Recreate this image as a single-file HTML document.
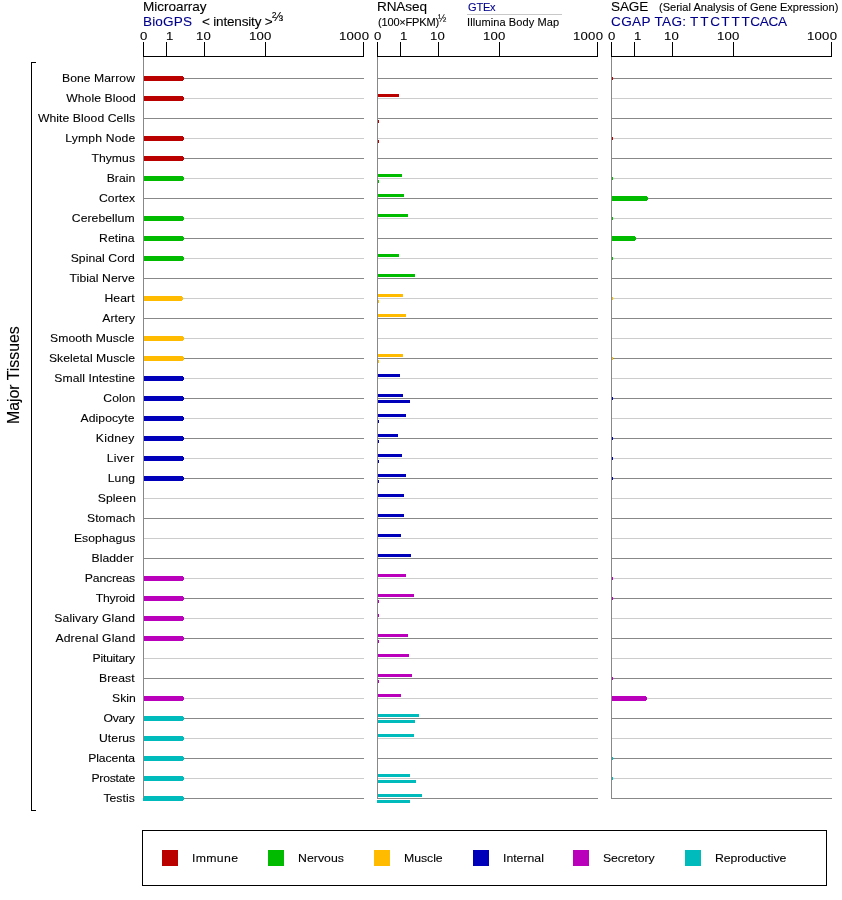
<!DOCTYPE html>
<html><head><meta charset="utf-8"><title>Expression</title>
<style>
html,body{margin:0;padding:0;background:#fff}
body{width:842px;height:900px;position:relative;overflow:hidden;font-family:"Liberation Sans",sans-serif;color:#000}
div{position:absolute;white-space:nowrap}
.x,.lb,.tk{-webkit-text-stroke:.1px currentColor}
.k{background:#000}
.g1{background:#888;height:1px}
.g2{background:#ccc;height:1px}
.ax{background:#888;width:1px}
.x{line-height:20px;transform-origin:0 0}
.lb{font-size:11.17px;line-height:20px;right:707px;text-align:right;letter-spacing:.06px;transform:scaleX(1.09);transform-origin:100% 0}
.tk{font-size:11.17px;line-height:20px;top:26px;letter-spacing:.2px;transform:scaleX(1.18);transform-origin:0 0}
.b{color:#00008b}
.sw{width:16px;height:16px;top:850px}
.b5{height:5px}
.b5::after{content:"";position:absolute;right:-1px;top:1px;width:1px;height:3px;background:inherit}
.b3{height:3px}
</style></head><body>

<div class="x " style="left:142.78px;top:-3.3px;font-size:12.57px;letter-spacing:-0.05px;transform:scaleX(1.08)">Microarray</div>
<div class="x b" style="left:142.98px;top:11.7px;font-size:12.57px;letter-spacing:0.135px;transform:scaleX(1.08)">BioGPS</div>
<div class="x " style="left:201.62px;top:11.7px;font-size:12.57px;letter-spacing:-0.187px;transform:scaleX(1.08)">&lt; intensity &gt;</div>
<div class="x" style="left:271.5px;top:7px;font-size:12px;transform:scaleX(1.11)">⅔</div>
<div class="x " style="left:376.98px;top:-3.3px;font-size:12.57px;letter-spacing:-0.108px;transform:scaleX(1.08)">RNAseq</div>
<div class="x " style="left:377.57px;top:11.7px;font-size:10.5px;letter-spacing:-0.177px;transform:scaleX(1.05)">(100×FPKM)</div>
<div class="x" style="left:438px;top:8px;font-size:10.5px;transform:scaleX(.95)">½</div>
<div class="x b" style="left:467.64px;top:-3.3px;font-size:10.5px;letter-spacing:-0.174px;transform:scaleX(1.05)">GTEx</div>
<div style="left:467px;top:14px;width:95px;height:1px;background:#c8c8c8"></div>
<div class="x " style="left:467.08px;top:11.7px;font-size:10.5px;letter-spacing:0.083px;transform:scaleX(1.05)">Illumina Body Map</div>
<div class="x " style="left:610.65px;top:-3.3px;font-size:12.57px;letter-spacing:-0.105px;transform:scaleX(1.08)">SAGE</div>
<div class="x " style="left:658.57px;top:-3.3px;font-size:10.5px;letter-spacing:0.01px;transform:scaleX(1.05)">(Serial Analysis of Gene Expression)</div>
<div class="x b" style="left:611.07px;top:11.7px;font-size:12.57px;letter-spacing:0.318px;transform:scaleX(1.08)">CGAP TAG:</div>
<div class="x b" style="left:690.4px;top:11.7px;font-size:12.57px;transform:scaleX(1.08)"><span style="letter-spacing:1.85px">T</span><span style="letter-spacing:1.65px">T</span><span style="letter-spacing:1.1px">C</span><span style="letter-spacing:1.67px">T</span><span style="letter-spacing:1.67px">T</span><span style="letter-spacing:0.28px">T</span><span style="letter-spacing:-0.28px">C</span><span style="letter-spacing:-0.14px">A</span><span style="letter-spacing:-0.28px">C</span><span style="letter-spacing:0px">A</span></div>
<div class="x" style="left:0;top:0;font-size:16px;transform:translate(4.2px,424px) rotate(-90deg) scaleX(.99)">Major Tissues</div>
<div class="k" style="left:31px;top:62px;width:1px;height:749px"></div>
<div class="k" style="left:31px;top:62px;width:5px;height:1px"></div>
<div class="k" style="left:31px;top:810px;width:5px;height:1px"></div>
<div class="lb" style="top:68px">Bone Marrow</div>
<div class="lb" style="top:88px;right:706.5px">Whole Blood</div>
<div class="lb" style="top:108px">White Blood Cells</div>
<div class="lb" style="top:128px;letter-spacing:0.16px">Lymph Node</div>
<div class="lb" style="top:148px">Thymus</div>
<div class="lb" style="top:168px">Brain</div>
<div class="lb" style="top:188px">Cortex</div>
<div class="lb" style="top:208px">Cerebellum</div>
<div class="lb" style="top:228px">Retina</div>
<div class="lb" style="top:248px">Spinal Cord</div>
<div class="lb" style="top:268px">Tibial Nerve</div>
<div class="lb" style="top:288px">Heart</div>
<div class="lb" style="top:308px">Artery</div>
<div class="lb" style="top:328px">Smooth Muscle</div>
<div class="lb" style="top:348px">Skeletal Muscle</div>
<div class="lb" style="top:368px">Small Intestine</div>
<div class="lb" style="top:388px">Colon</div>
<div class="lb" style="top:408px">Adipocyte</div>
<div class="lb" style="top:428px;letter-spacing:0.24px">Kidney</div>
<div class="lb" style="top:448px;letter-spacing:0.26px;right:707.9px">Liver</div>
<div class="lb" style="top:468px">Lung</div>
<div class="lb" style="top:488px;right:706.1px">Spleen</div>
<div class="lb" style="top:508px">Stomach</div>
<div class="lb" style="top:528px">Esophagus</div>
<div class="lb" style="top:548px;right:707.9px">Bladder</div>
<div class="lb" style="top:568px;letter-spacing:-0.15px">Pancreas</div>
<div class="lb" style="top:588px;letter-spacing:-0.185px">Thyroid</div>
<div class="lb" style="top:608px;letter-spacing:0.11px">Salivary Gland</div>
<div class="lb" style="top:628px;letter-spacing:0.16px">Adrenal Gland</div>
<div class="lb" style="top:648px;letter-spacing:-0.16px">Pituitary</div>
<div class="lb" style="top:668px">Breast</div>
<div class="lb" style="top:688px;right:706.1px">Skin</div>
<div class="lb" style="top:708px;letter-spacing:-0.24px">Ovary</div>
<div class="lb" style="top:728px">Uterus</div>
<div class="lb" style="top:748px;letter-spacing:-0.06px">Placenta</div>
<div class="lb" style="top:768px;letter-spacing:-0.2px">Prostate</div>
<div class="lb" style="top:788px">Testis</div>
<div class="k" style="left:143px;top:56px;width:221px;height:1px"></div>
<div class="k" style="left:143px;top:42px;width:1px;height:14px"></div>
<div class="tk" style="left:139.9px">0</div>
<div class="k" style="left:166px;top:42px;width:1px;height:14px"></div>
<div class="tk" style="left:166.3px">1</div>
<div class="k" style="left:204px;top:42px;width:1px;height:14px"></div>
<div class="tk" style="left:196.4px">10</div>
<div class="k" style="left:265px;top:42px;width:1px;height:14px"></div>
<div class="tk" style="left:249.2px">100</div>
<div class="k" style="left:363px;top:42px;width:1px;height:14px"></div>
<div class="tk" style="left:339.3px">1000</div>
<div class="ax" style="left:143px;top:57px;height:742px"></div>
<div class="g1" style="left:144px;top:78px;width:220px"></div>
<div class="g2" style="left:144px;top:98px;width:220px"></div>
<div class="g1" style="left:144px;top:118px;width:220px"></div>
<div class="g2" style="left:144px;top:138px;width:220px"></div>
<div class="g1" style="left:144px;top:158px;width:220px"></div>
<div class="g2" style="left:144px;top:178px;width:220px"></div>
<div class="g1" style="left:144px;top:198px;width:220px"></div>
<div class="g2" style="left:144px;top:218px;width:220px"></div>
<div class="g1" style="left:144px;top:238px;width:220px"></div>
<div class="g2" style="left:144px;top:258px;width:220px"></div>
<div class="g1" style="left:144px;top:278px;width:220px"></div>
<div class="g2" style="left:144px;top:298px;width:220px"></div>
<div class="g1" style="left:144px;top:318px;width:220px"></div>
<div class="g2" style="left:144px;top:338px;width:220px"></div>
<div class="g1" style="left:144px;top:358px;width:220px"></div>
<div class="g2" style="left:144px;top:378px;width:220px"></div>
<div class="g1" style="left:144px;top:398px;width:220px"></div>
<div class="g2" style="left:144px;top:418px;width:220px"></div>
<div class="g1" style="left:144px;top:438px;width:220px"></div>
<div class="g2" style="left:144px;top:458px;width:220px"></div>
<div class="g1" style="left:144px;top:478px;width:220px"></div>
<div class="g2" style="left:144px;top:498px;width:220px"></div>
<div class="g1" style="left:144px;top:518px;width:220px"></div>
<div class="g2" style="left:144px;top:538px;width:220px"></div>
<div class="g1" style="left:144px;top:558px;width:220px"></div>
<div class="g2" style="left:144px;top:578px;width:220px"></div>
<div class="g1" style="left:144px;top:598px;width:220px"></div>
<div class="g2" style="left:144px;top:618px;width:220px"></div>
<div class="g1" style="left:144px;top:638px;width:220px"></div>
<div class="g2" style="left:144px;top:658px;width:220px"></div>
<div class="g1" style="left:144px;top:678px;width:220px"></div>
<div class="g2" style="left:144px;top:698px;width:220px"></div>
<div class="g1" style="left:144px;top:718px;width:220px"></div>
<div class="g2" style="left:144px;top:738px;width:220px"></div>
<div class="g1" style="left:144px;top:758px;width:220px"></div>
<div class="g2" style="left:144px;top:778px;width:220px"></div>
<div class="g1" style="left:144px;top:798px;width:220px"></div>
<div class="b5" style="left:144px;top:76px;width:39px;background:#bb0000"></div>
<div class="b5" style="left:144px;top:96px;width:39px;background:#bb0000"></div>
<div class="b5" style="left:144px;top:136px;width:39px;background:#bb0000"></div>
<div class="b5" style="left:144px;top:156px;width:39px;background:#bb0000"></div>
<div class="b5" style="left:144px;top:176px;width:39px;background:#00bb00"></div>
<div class="b5" style="left:144px;top:216px;width:39px;background:#00bb00"></div>
<div class="b5" style="left:144px;top:236px;width:39px;background:#00bb00"></div>
<div class="b5" style="left:144px;top:256px;width:39px;background:#00bb00"></div>
<div class="b5" style="left:144px;top:296px;width:38px;background:#ffbb00"></div>
<div class="b5" style="left:144px;top:336px;width:39px;background:#ffbb00"></div>
<div class="b5" style="left:144px;top:356px;width:39px;background:#ffbb00"></div>
<div class="b5" style="left:144px;top:376px;width:39px;background:#0000bb"></div>
<div class="b5" style="left:144px;top:396px;width:39px;background:#0000bb"></div>
<div class="b5" style="left:144px;top:416px;width:39px;background:#0000bb"></div>
<div class="b5" style="left:144px;top:436px;width:39px;background:#0000bb"></div>
<div class="b5" style="left:144px;top:456px;width:39px;background:#0000bb"></div>
<div class="b5" style="left:144px;top:476px;width:39px;background:#0000bb"></div>
<div class="b5" style="left:144px;top:576px;width:39px;background:#bb00bb"></div>
<div class="b5" style="left:144px;top:596px;width:39px;background:#bb00bb"></div>
<div class="b5" style="left:144px;top:616px;width:39px;background:#bb00bb"></div>
<div class="b5" style="left:144px;top:636px;width:39px;background:#bb00bb"></div>
<div class="b5" style="left:144px;top:696px;width:39px;background:#bb00bb"></div>
<div class="b5" style="left:144px;top:716px;width:39px;background:#00bbbb"></div>
<div class="b5" style="left:144px;top:736px;width:39px;background:#00bbbb"></div>
<div class="b5" style="left:144px;top:756px;width:39px;background:#00bbbb"></div>
<div class="b5" style="left:144px;top:776px;width:39px;background:#00bbbb"></div>
<div class="b5" style="left:144px;top:796px;width:39px;background:#00bbbb"></div>
<div class="k" style="left:377px;top:56px;width:221px;height:1px"></div>
<div class="k" style="left:377px;top:42px;width:1px;height:14px"></div>
<div class="tk" style="left:373.9px">0</div>
<div class="k" style="left:400px;top:42px;width:1px;height:14px"></div>
<div class="tk" style="left:400.3px">1</div>
<div class="k" style="left:438px;top:42px;width:1px;height:14px"></div>
<div class="tk" style="left:430.4px">10</div>
<div class="k" style="left:499px;top:42px;width:1px;height:14px"></div>
<div class="tk" style="left:483.2px">100</div>
<div class="k" style="left:597px;top:42px;width:1px;height:14px"></div>
<div class="tk" style="left:573.3px">1000</div>
<div class="ax" style="left:377px;top:57px;height:742px"></div>
<div class="g1" style="left:378px;top:78px;width:220px"></div>
<div class="g2" style="left:378px;top:98px;width:220px"></div>
<div class="g1" style="left:378px;top:118px;width:220px"></div>
<div class="g2" style="left:378px;top:138px;width:220px"></div>
<div class="g1" style="left:378px;top:158px;width:220px"></div>
<div class="g2" style="left:378px;top:178px;width:220px"></div>
<div class="g1" style="left:378px;top:198px;width:220px"></div>
<div class="g2" style="left:378px;top:218px;width:220px"></div>
<div class="g1" style="left:378px;top:238px;width:220px"></div>
<div class="g2" style="left:378px;top:258px;width:220px"></div>
<div class="g1" style="left:378px;top:278px;width:220px"></div>
<div class="g2" style="left:378px;top:298px;width:220px"></div>
<div class="g1" style="left:378px;top:318px;width:220px"></div>
<div class="g2" style="left:378px;top:338px;width:220px"></div>
<div class="g1" style="left:378px;top:358px;width:220px"></div>
<div class="g2" style="left:378px;top:378px;width:220px"></div>
<div class="g1" style="left:378px;top:398px;width:220px"></div>
<div class="g2" style="left:378px;top:418px;width:220px"></div>
<div class="g1" style="left:378px;top:438px;width:220px"></div>
<div class="g2" style="left:378px;top:458px;width:220px"></div>
<div class="g1" style="left:378px;top:478px;width:220px"></div>
<div class="g2" style="left:378px;top:498px;width:220px"></div>
<div class="g1" style="left:378px;top:518px;width:220px"></div>
<div class="g2" style="left:378px;top:538px;width:220px"></div>
<div class="g1" style="left:378px;top:558px;width:220px"></div>
<div class="g2" style="left:378px;top:578px;width:220px"></div>
<div class="g1" style="left:378px;top:598px;width:220px"></div>
<div class="g2" style="left:378px;top:618px;width:220px"></div>
<div class="g1" style="left:378px;top:638px;width:220px"></div>
<div class="g2" style="left:378px;top:658px;width:220px"></div>
<div class="g1" style="left:378px;top:678px;width:220px"></div>
<div class="g2" style="left:378px;top:698px;width:220px"></div>
<div class="g1" style="left:378px;top:718px;width:220px"></div>
<div class="g2" style="left:378px;top:738px;width:220px"></div>
<div class="g1" style="left:378px;top:758px;width:220px"></div>
<div class="g2" style="left:378px;top:778px;width:220px"></div>
<div class="g1" style="left:378px;top:798px;width:220px"></div>
<div class="b3" style="left:378px;top:94px;width:21px;background:#bb0000"></div>
<div class="b3" style="left:378px;top:120px;width:1px;background:#bb0000"></div>
<div class="b3" style="left:378px;top:140px;width:1px;background:#bb0000"></div>
<div class="b3" style="left:378px;top:174px;width:24px;background:#00bb00"></div>
<div class="b3" style="left:378px;top:180px;width:1px;background:#00bb00"></div>
<div class="b3" style="left:378px;top:194px;width:26px;background:#00bb00"></div>
<div class="b3" style="left:378px;top:214px;width:30px;background:#00bb00"></div>
<div class="b3" style="left:378px;top:254px;width:21px;background:#00bb00"></div>
<div class="b3" style="left:378px;top:274px;width:37px;background:#00bb00"></div>
<div class="b3" style="left:378px;top:294px;width:25px;background:#ffbb00"></div>
<div class="b3" style="left:378px;top:300px;width:1px;background:#ffbb00"></div>
<div class="b3" style="left:378px;top:314px;width:28px;background:#ffbb00"></div>
<div class="b3" style="left:378px;top:354px;width:25px;background:#ffbb00"></div>
<div class="b3" style="left:378px;top:360px;width:1px;background:#ffbb00"></div>
<div class="b3" style="left:378px;top:374px;width:22px;background:#0000bb"></div>
<div class="b3" style="left:378px;top:394px;width:25px;background:#0000bb"></div>
<div class="b3" style="left:378px;top:400px;width:32px;background:#0000bb"></div>
<div class="b3" style="left:378px;top:414px;width:28px;background:#0000bb"></div>
<div class="b3" style="left:378px;top:420px;width:1px;background:#0000bb"></div>
<div class="b3" style="left:378px;top:434px;width:20px;background:#0000bb"></div>
<div class="b3" style="left:378px;top:440px;width:1px;background:#0000bb"></div>
<div class="b3" style="left:378px;top:454px;width:24px;background:#0000bb"></div>
<div class="b3" style="left:378px;top:460px;width:1px;background:#0000bb"></div>
<div class="b3" style="left:378px;top:474px;width:28px;background:#0000bb"></div>
<div class="b3" style="left:378px;top:480px;width:1px;background:#0000bb"></div>
<div class="b3" style="left:378px;top:494px;width:26px;background:#0000bb"></div>
<div class="b3" style="left:378px;top:514px;width:26px;background:#0000bb"></div>
<div class="b3" style="left:378px;top:534px;width:23px;background:#0000bb"></div>
<div class="b3" style="left:378px;top:554px;width:33px;background:#0000bb"></div>
<div class="b3" style="left:378px;top:574px;width:28px;background:#bb00bb"></div>
<div class="b3" style="left:378px;top:594px;width:36px;background:#bb00bb"></div>
<div class="b3" style="left:378px;top:600px;width:1px;background:#bb00bb"></div>
<div class="b3" style="left:378px;top:614px;width:1px;background:#bb00bb"></div>
<div class="b3" style="left:378px;top:634px;width:30px;background:#bb00bb"></div>
<div class="b3" style="left:378px;top:640px;width:1px;background:#bb00bb"></div>
<div class="b3" style="left:378px;top:654px;width:31px;background:#bb00bb"></div>
<div class="b3" style="left:378px;top:674px;width:34px;background:#bb00bb"></div>
<div class="b3" style="left:378px;top:680px;width:1px;background:#bb00bb"></div>
<div class="b3" style="left:378px;top:694px;width:23px;background:#bb00bb"></div>
<div class="b3" style="left:378px;top:714px;width:41px;background:#00bbbb"></div>
<div class="b3" style="left:378px;top:720px;width:37px;background:#00bbbb"></div>
<div class="b3" style="left:378px;top:734px;width:36px;background:#00bbbb"></div>
<div class="b3" style="left:378px;top:774px;width:32px;background:#00bbbb"></div>
<div class="b3" style="left:378px;top:780px;width:38px;background:#00bbbb"></div>
<div class="b3" style="left:378px;top:794px;width:44px;background:#00bbbb"></div>
<div class="b3" style="left:377px;top:800px;width:33px;background:#00bbbb"></div>
<div class="k" style="left:611px;top:56px;width:221px;height:1px"></div>
<div class="k" style="left:611px;top:42px;width:1px;height:14px"></div>
<div class="tk" style="left:607.9px">0</div>
<div class="k" style="left:634px;top:42px;width:1px;height:14px"></div>
<div class="tk" style="left:634.3px">1</div>
<div class="k" style="left:672px;top:42px;width:1px;height:14px"></div>
<div class="tk" style="left:664.4px">10</div>
<div class="k" style="left:733px;top:42px;width:1px;height:14px"></div>
<div class="tk" style="left:717.2px">100</div>
<div class="k" style="left:831px;top:42px;width:1px;height:14px"></div>
<div class="tk" style="left:807.3px">1000</div>
<div class="ax" style="left:611px;top:57px;height:742px"></div>
<div class="g1" style="left:612px;top:78px;width:220px"></div>
<div class="g2" style="left:612px;top:98px;width:220px"></div>
<div class="g1" style="left:612px;top:118px;width:220px"></div>
<div class="g2" style="left:612px;top:138px;width:220px"></div>
<div class="g1" style="left:612px;top:158px;width:220px"></div>
<div class="g2" style="left:612px;top:178px;width:220px"></div>
<div class="g1" style="left:612px;top:198px;width:220px"></div>
<div class="g2" style="left:612px;top:218px;width:220px"></div>
<div class="g1" style="left:612px;top:238px;width:220px"></div>
<div class="g2" style="left:612px;top:258px;width:220px"></div>
<div class="g1" style="left:612px;top:278px;width:220px"></div>
<div class="g2" style="left:612px;top:298px;width:220px"></div>
<div class="g1" style="left:612px;top:318px;width:220px"></div>
<div class="g2" style="left:612px;top:338px;width:220px"></div>
<div class="g1" style="left:612px;top:358px;width:220px"></div>
<div class="g2" style="left:612px;top:378px;width:220px"></div>
<div class="g1" style="left:612px;top:398px;width:220px"></div>
<div class="g2" style="left:612px;top:418px;width:220px"></div>
<div class="g1" style="left:612px;top:438px;width:220px"></div>
<div class="g2" style="left:612px;top:458px;width:220px"></div>
<div class="g1" style="left:612px;top:478px;width:220px"></div>
<div class="g2" style="left:612px;top:498px;width:220px"></div>
<div class="g1" style="left:612px;top:518px;width:220px"></div>
<div class="g2" style="left:612px;top:538px;width:220px"></div>
<div class="g1" style="left:612px;top:558px;width:220px"></div>
<div class="g2" style="left:612px;top:578px;width:220px"></div>
<div class="g1" style="left:612px;top:598px;width:220px"></div>
<div class="g2" style="left:612px;top:618px;width:220px"></div>
<div class="g1" style="left:612px;top:638px;width:220px"></div>
<div class="g2" style="left:612px;top:658px;width:220px"></div>
<div class="g1" style="left:612px;top:678px;width:220px"></div>
<div class="g2" style="left:612px;top:698px;width:220px"></div>
<div class="g1" style="left:612px;top:718px;width:220px"></div>
<div class="g2" style="left:612px;top:738px;width:220px"></div>
<div class="g1" style="left:612px;top:758px;width:220px"></div>
<div class="g2" style="left:612px;top:778px;width:220px"></div>
<div class="g1" style="left:612px;top:798px;width:220px"></div>
<div class="b3" style="left:612px;top:77px;width:1px;background:#bb0000"></div>
<div class="b3" style="left:612px;top:137px;width:1px;background:#bb0000"></div>
<div class="b3" style="left:612px;top:177px;width:1px;background:#00bb00"></div>
<div class="b5" style="left:612px;top:196px;width:35px;background:#00bb00"></div>
<div class="b3" style="left:612px;top:217px;width:1px;background:#00bb00"></div>
<div class="b5" style="left:612px;top:236px;width:23px;background:#00bb00"></div>
<div class="b3" style="left:612px;top:257px;width:1px;background:#00bb00"></div>
<div class="b3" style="left:612px;top:297px;width:1px;background:#ffbb00"></div>
<div class="b3" style="left:612px;top:357px;width:1px;background:#ffbb00"></div>
<div class="b3" style="left:612px;top:397px;width:1px;background:#0000bb"></div>
<div class="b3" style="left:612px;top:437px;width:1px;background:#0000bb"></div>
<div class="b3" style="left:612px;top:457px;width:1px;background:#0000bb"></div>
<div class="b3" style="left:612px;top:477px;width:1px;background:#0000bb"></div>
<div class="b3" style="left:612px;top:577px;width:1px;background:#bb00bb"></div>
<div class="b3" style="left:612px;top:597px;width:1px;background:#bb00bb"></div>
<div class="b3" style="left:612px;top:677px;width:1px;background:#bb00bb"></div>
<div class="b5" style="left:612px;top:696px;width:34px;background:#bb00bb"></div>
<div class="b3" style="left:612px;top:757px;width:1px;background:#00bbbb"></div>
<div class="b3" style="left:612px;top:777px;width:1px;background:#00bbbb"></div>
<div style="left:143px;top:798px;width:1px;height:3px;background:#00bbbb"></div>
<div style="left:142px;top:830px;width:683px;height:54px;border:1px solid #000"></div>
<div class="sw" style="left:162px;background:#bb0000"></div>
<div class="x " style="left:191.85px;top:848px;font-size:11.17px;letter-spacing:0.299px;transform:scaleX(1.1)">Immune</div>
<div class="sw" style="left:268px;background:#00bb00"></div>
<div class="x " style="left:297.94px;top:848px;font-size:11.17px;letter-spacing:0.038px;transform:scaleX(1.1)">Nervous</div>
<div class="sw" style="left:374px;background:#ffbb00"></div>
<div class="x " style="left:403.95px;top:848px;font-size:11.17px;letter-spacing:-0.033px;transform:scaleX(1.1)">Muscle</div>
<div class="sw" style="left:473px;background:#0000bb"></div>
<div class="x " style="left:502.81px;top:848px;font-size:11.17px;letter-spacing:-0.009px;transform:scaleX(1.1)">Internal</div>
<div class="sw" style="left:573px;background:#bb00bb"></div>
<div class="x " style="left:603.05px;top:848px;font-size:11.17px;letter-spacing:-0.092px;transform:scaleX(1.1)">Secretory</div>
<div class="sw" style="left:685px;background:#00bbbb"></div>
<div class="x " style="left:715.19px;top:848px;font-size:11.17px;letter-spacing:-0.08px;transform:scaleX(1.1)">Reproductive</div>
</body></html>
